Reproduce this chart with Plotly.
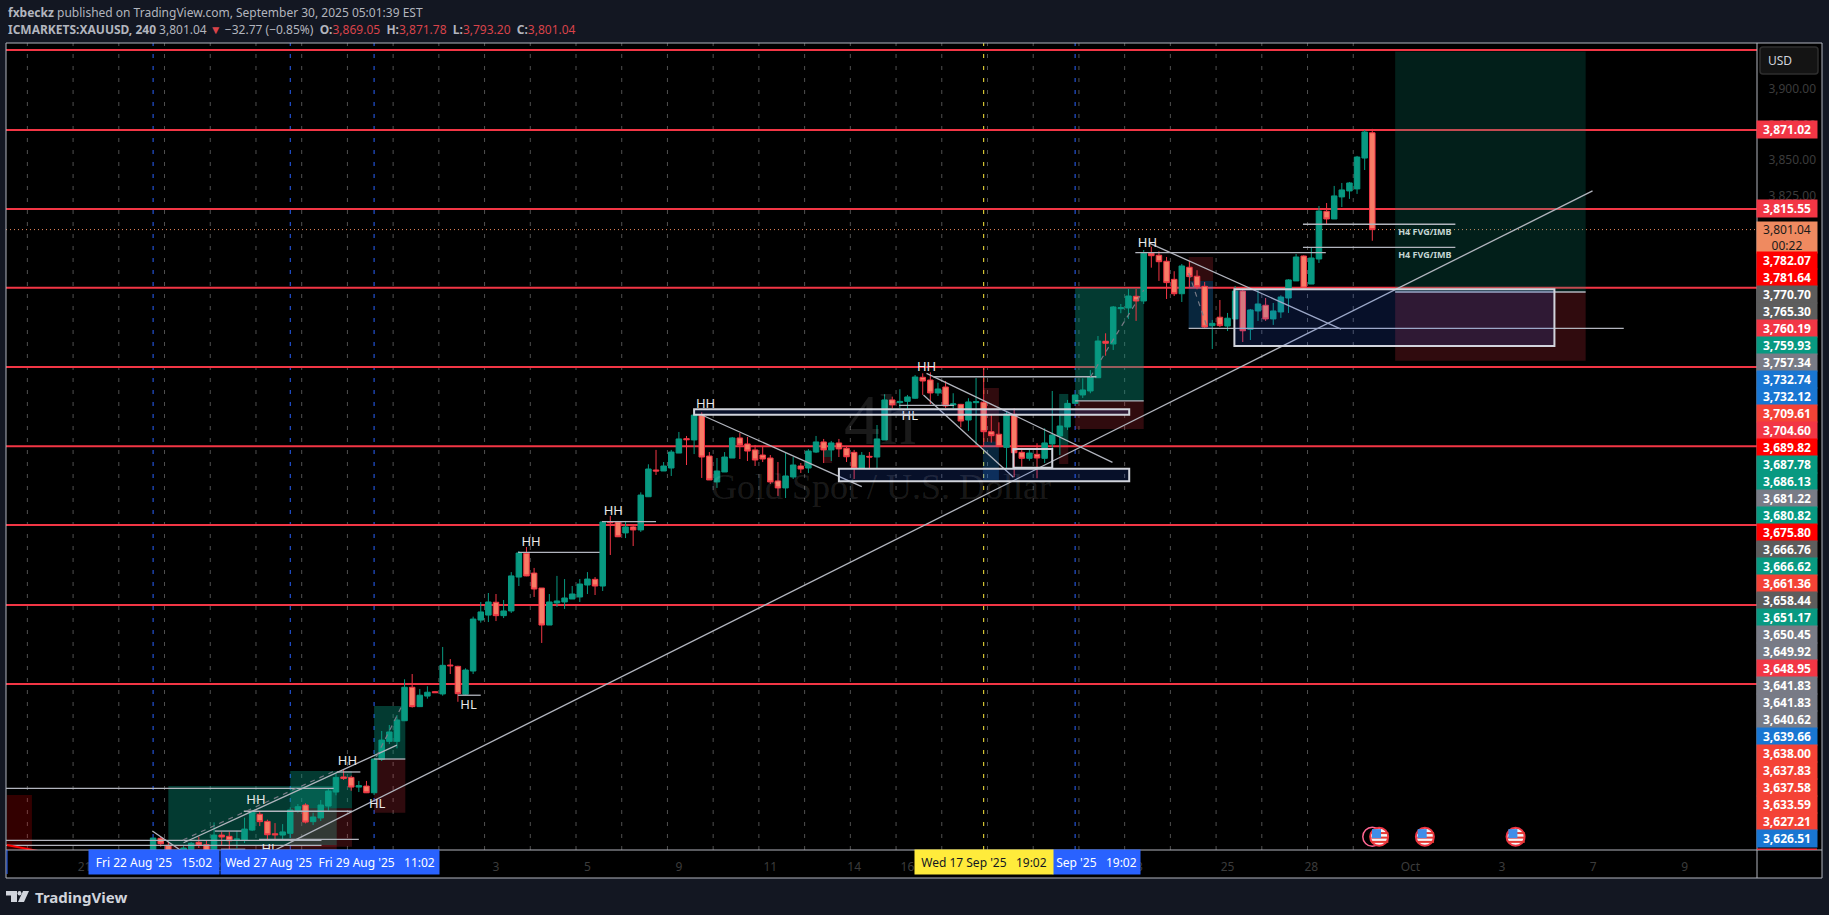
#!/usr/bin/env python3
import plotly.graph_objects as go

# ============================================================
#                  CANDLES (4h XAUUSD)
# ============================================================

directions = (
    "UDDDUUDDUD" "DUUUDDDUUU" "DUUUUDDUDU" "UUUUDUUDUD" "DUUUUDUUUD"
    "DDUUUUUUDU" "DDUDUUDUUU" "DUDDUUUDDD" "DDDUUDUUDU" "DDDUDUUDUU"
    "UDDUDUDUUD" "DDUDDUDUUU" "UUUUUDUUUD" "UDDDDUDDDU" "DUUDUUDUUU"
    "UDUUDUUUUU" "D"
)

body_top = [
    3373.7, 3373.5, 3368.6, 3363.2, 3366.7, 3370.0, 3370.7, 3369.0, 3375.8, 3375.8,
    3374.9, 3373.0, 3380.0, 3391.8, 3390.4, 3385.4, 3376.7, 3378.0, 3393.4, 3395.7,
    3396.9, 3388.5, 3396.9, 3406.7, 3416.3, 3416.6, 3416.3, 3410.5, 3410.2, 3429.2,
    3442.5, 3448.2, 3456.6, 3479.6, 3479.6, 3474.0, 3476.1, 3476.5, 3495.0, 3495.2,
    3494.3, 3491.7, 3527.5, 3532.5, 3539.5, 3539.3, 3533.2, 3557.8, 3573.9, 3573.7,
    3559.8, 3549.3, 3539.5, 3540.2, 3542.3, 3545.1, 3552.1, 3555.6, 3555.4, 3595.7,
    3595.9, 3595.7, 3592.2, 3592.2, 3614.6, 3632.9, 3632.2, 3635.0, 3644.8, 3654.0,
    3654.2, 3670.8, 3670.6, 3642.0, 3631.5, 3641.3, 3654.7, 3654.7, 3650.5, 3646.3,
    3642.7, 3640.6, 3624.5, 3628.0, 3635.7, 3635.0, 3645.5, 3651.9, 3651.9, 3651.2,
    3651.2, 3647.4, 3644.6, 3642.5, 3641.8, 3654.0, 3681.4, 3681.4, 3680.4, 3683.5,
    3697.5, 3697.3, 3695.4, 3689.1, 3690.5, 3678.6, 3678.3, 3680.0, 3680.2, 3679.8,
    3659.1, 3657.3, 3671.5, 3671.3, 3644.6, 3644.1, 3643.2, 3651.2, 3656.8, 3663.1,
    3679.0, 3684.9, 3688.4, 3697.7, 3722.8, 3722.6, 3746.7, 3746.2, 3754.4, 3754.2,
    3784.4, 3784.4, 3783.0, 3778.8, 3766.1, 3775.5, 3774.6, 3768.3, 3761.2, 3735.2,
    3739.5, 3738.8, 3757.9, 3757.9, 3744.6, 3748.8, 3747.9, 3743.9, 3753.7, 3765.7,
    3781.8, 3782.5, 3781.1, 3814.1, 3813.9, 3824.7, 3828.9, 3833.8, 3852.0, 3869.6,
    3869.05,
]

body_bottom = [
    3358.2, 3369.7, 3361.8, 3356.9, 3359.7, 3365.8, 3368.8, 3363.2, 3361.8, 3374.4,
    3371.8, 3372.3, 3372.1, 3379.3, 3385.2, 3376.0, 3376.0, 3375.8, 3377.0, 3392.9,
    3384.9, 3385.2, 3387.8, 3396.2, 3406.0, 3415.6, 3409.5, 3409.5, 3405.5, 3405.5,
    3429.0, 3441.6, 3441.6, 3456.1, 3466.0, 3466.0, 3473.4, 3475.8, 3474.9, 3494.7,
    3475.1, 3474.7, 3491.0, 3526.8, 3530.3, 3529.9, 3529.9, 3533.2, 3557.0, 3557.8,
    3548.6, 3523.3, 3523.3, 3538.8, 3539.5, 3541.6, 3543.0, 3551.4, 3550.7, 3550.7,
    3595.2, 3585.3, 3588.0, 3590.1, 3590.1, 3613.4, 3631.5, 3631.5, 3633.6, 3644.1,
    3653.5, 3653.3, 3641.3, 3625.2, 3623.8, 3630.8, 3640.6, 3649.8, 3645.5, 3639.2,
    3639.9, 3623.8, 3619.6, 3619.6, 3627.3, 3632.9, 3633.6, 3644.8, 3646.3, 3646.3,
    3647.0, 3641.5, 3633.4, 3633.4, 3641.3, 3641.3, 3653.3, 3677.9, 3679.5, 3680.4,
    3682.6, 3694.7, 3686.3, 3686.3, 3677.2, 3677.9, 3666.6, 3667.3, 3679.5, 3659.1,
    3656.3, 3648.6, 3648.1, 3644.3, 3640.4, 3640.4, 3640.6, 3640.4, 3650.5, 3656.1,
    3662.4, 3679.0, 3684.9, 3687.7, 3697.0, 3721.2, 3720.7, 3745.5, 3746.0, 3750.9,
    3750.9, 3782.7, 3778.5, 3763.8, 3756.0, 3756.0, 3768.0, 3761.0, 3732.6, 3733.6,
    3733.6, 3733.3, 3738.3, 3730.0, 3731.0, 3743.9, 3738.3, 3738.3, 3743.2, 3753.0,
    3765.0, 3760.0, 3762.8, 3780.4, 3808.5, 3808.5, 3824.0, 3828.2, 3829.6, 3851.3,
    3801.04,
]

highs = [
    3373.7, 3374.4, 3370.9, 3365.3, 3368.1, 3370.9, 3374.6, 3371.8, 3384.7, 3378.1,
    3378.1, 3378.8, 3388.0, 3392.7, 3392.2, 3386.6, 3384.2, 3383.5, 3395.3, 3397.6,
    3398.1, 3391.5, 3400.4, 3408.6, 3419.1, 3422.0, 3417.5, 3413.8, 3413.8, 3429.9,
    3448.9, 3453.1, 3460.1, 3485.2, 3488.9, 3478.4, 3480.3, 3477.0, 3507.9, 3499.4,
    3494.7, 3492.9, 3529.2, 3539.5, 3545.8, 3545.1, 3540.9, 3560.5, 3575.3, 3578.1,
    3563.4, 3549.3, 3545.1, 3557.8, 3555.6, 3550.7, 3555.6, 3560.5, 3557.0, 3596.4,
    3599.9, 3596.4, 3596.4, 3593.6, 3616.5, 3636.2, 3646.3, 3637.8, 3646.3, 3658.9,
    3656.1, 3674.8, 3672.7, 3644.8, 3640.6, 3644.8, 3655.4, 3658.2, 3655.4, 3649.8,
    3648.4, 3642.7, 3637.8, 3644.1, 3641.3, 3637.1, 3646.9, 3656.1, 3654.0, 3652.6,
    3654.0, 3649.1, 3646.3, 3644.8, 3644.8, 3663.8, 3685.4, 3683.7, 3688.9, 3684.9,
    3698.9, 3700.1, 3700.8, 3693.5, 3694.7, 3686.1, 3678.6, 3682.6, 3696.8, 3705.2,
    3671.5, 3665.7, 3673.1, 3675.5, 3647.7, 3647.4, 3651.0, 3661.5, 3687.7, 3670.8,
    3681.4, 3685.6, 3696.6, 3702.4, 3726.3, 3728.2, 3747.4, 3748.8, 3759.3, 3759.3,
    3786.7, 3789.1, 3785.8, 3781.8, 3771.8, 3776.9, 3779.0, 3772.5, 3764.3, 3737.6,
    3751.6, 3742.5, 3761.4, 3759.3, 3745.3, 3758.6, 3753.0, 3749.5, 3754.9, 3766.2,
    3783.9, 3783.0, 3788.8, 3817.6, 3819.7, 3831.7, 3833.8, 3834.5, 3852.8, 3871.0,
    3871.78,
]

lows = [
    3354.8, 3367.6, 3359.7, 3354.1, 3356.9, 3364.6, 3366.7, 3359.7, 3359.7, 3368.8,
    3363.9, 3366.5, 3370.2, 3378.6, 3382.1, 3372.3, 3372.3, 3372.3, 3373.7, 3391.5,
    3384.0, 3382.8, 3385.7, 3392.9, 3403.7, 3414.5, 3406.9, 3406.0, 3405.3, 3403.9,
    3427.8, 3439.7, 3436.7, 3455.9, 3465.3, 3465.7, 3471.6, 3475.6, 3473.7, 3488.9,
    3469.4, 3474.2, 3488.9, 3525.0, 3525.4, 3526.1, 3528.2, 3531.8, 3550.7, 3557.6,
    3543.0, 3510.7, 3523.3, 3536.0, 3534.6, 3541.6, 3539.5, 3545.1, 3544.4, 3547.2,
    3572.5, 3585.1, 3584.4, 3578.8, 3588.7, 3613.2, 3628.7, 3631.5, 3628.0, 3644.1,
    3635.7, 3643.4, 3626.6, 3625.2, 3619.6, 3630.8, 3640.6, 3639.9, 3638.5, 3635.0,
    3637.8, 3622.4, 3614.0, 3612.5, 3625.9, 3630.1, 3630.1, 3644.1, 3637.1, 3638.5,
    3641.3, 3637.8, 3625.9, 3633.4, 3633.6, 3633.6, 3653.3, 3675.5, 3675.8, 3675.1,
    3682.1, 3684.9, 3678.6, 3684.2, 3675.8, 3675.5, 3662.2, 3659.6, 3649.8, 3648.4,
    3651.4, 3648.4, 3633.4, 3627.1, 3634.5, 3638.7, 3626.4, 3637.1, 3642.7, 3642.7,
    3660.3, 3678.6, 3682.8, 3686.1, 3696.8, 3712.5, 3716.5, 3742.3, 3738.3, 3736.9,
    3748.8, 3774.3, 3765.0, 3752.3, 3754.4, 3750.2, 3760.7, 3759.1, 3731.9, 3717.2,
    3732.6, 3729.8, 3738.3, 3722.1, 3723.5, 3736.9, 3736.9, 3734.1, 3739.0, 3742.5,
    3765.0, 3759.3, 3762.8, 3777.6, 3805.0, 3808.5, 3816.9, 3822.6, 3826.1, 3842.9,
    3793.20,
]

# ============================================================
#                  AXES
# ============================================================

x_tick_bars = [-9, 9, 45, 57, 69, 81, 92, 99, 129, 141, 152, 165, 177, 189, 201]
x_tick_text = ["21", "26", "3", "5", "9", "11", "14", "16", "23", "25", "28", "Oct", "3", "7", "9"]
y_tick_vals = [3900, 3875, 3850, 3825]

session_bars = [-16.5 + 6 * i for i in range(30)]
blue_bars = [0, 18, 29, 121]
yellow_bars = [109]

# ============================================================
#                  DRAWINGS
# ============================================================

red_levels = [3927.2, 3871.02, 3815.55, 3760.19, 3704.60, 3648.95, 3593.6, 3537.4, 3481.9]
last_price = 3801.04

# bar0, bar1, top, mid, bottom, top colour, bottom colour
GREEN_HI = "rgba(8,153,129,0.38)"
GREEN_LO = "rgba(8,153,129,0.2)"
RED_BOX = "rgba(242,54,69,0.2)"
RED_PURE = "rgba(255,0,0,0.2)"
BLUE_BOX = "rgba(33,150,243,0.25)"
position_boxes = [
    (-19.2, -15.9, 3404.0, 3351.0, 3351.0, RED_PURE, RED_PURE),
    (2.0, 24.1, 3410.2, 3368.8, 3351.2, GREEN_HI, RED_BOX),
    (18.0, 26.1, 3420.8, 3394.6, 3367.6, GREEN_HI, RED_BOX),
    (29.0, 33.1, 3466.4, 3429.2, 3391.5, GREEN_HI, RED_BOX),
    (87.9, 89.1, 3646.3, 3641.3, 3637.1, GREEN_HI, RED_BOX),
    (108.9, 111.0, 3689.8, 3652.1, 3625.2, RED_BOX, BLUE_BOX),
    (118.9, 120.1, 3685.6, 3649.8, 3636.4, GREEN_HI, RED_BOX),
    (121.0, 130.0, 3760.0, 3680.7, 3661.0, GREEN_HI, RED_BOX),
    (135.9, 139.1, 3781.8, 3765.0, 3731.9, RED_BOX, BLUE_BOX),
    (163.0, 188.0, 3926.2, 3757.2, 3709.0, GREEN_LO, RED_BOX),
]

# bar0, bar1, top, bottom, filled
outlined_boxes = [
    (71.0, 128.1, 3674.8, 3671.0, True),
    (90.0, 128.1, 3633.1, 3624.3, True),
    (112.9, 118.0, 3647.0, 3633.8, False),
    (141.9, 183.9, 3759.1, 3719.3, True),
]

trend_lines = [
    (12.7, 3356.4, 188.9, 3828.2),
    (4.0, 3370.4, 32.0, 3439.0),
    (-0.1, 3378.6, 5.5, 3358.2),
    (72.0, 3670.8, 93.0, 3620.5),
    (101.5, 3700.1, 125.9, 3637.6),
    (101.1, 3684.9, 112.9, 3627.1),
    (130.8, 3791.4, 155.9, 3731.2),
    (-19.3, 3408.6, 23.7, 3408.6),
    (-19.3, 3372.1, 22.1, 3372.1),
    (-19.3, 3368.6, 22.1, 3368.6),
    (13.9, 3372.8, 27.0, 3372.8),
    (11.9, 3392.5, 26.1, 3392.5),
    (8.1, 3378.6, 11.6, 3378.6),
    (8.9, 3365.8, 12.1, 3365.8),
    (24.1, 3420.1, 27.2, 3420.1),
    (40.0, 3474.0, 43.0, 3474.0),
    (47.9, 3574.4, 58.6, 3574.4),
    (58.9, 3595.9, 66.0, 3595.9),
    (97.9, 3677.6, 105.1, 3677.6),
    (102.4, 3697.7, 123.8, 3697.7),
    (128.9, 3784.8, 153.9, 3784.8),
    (135.9, 3731.7, 193.0, 3731.7),
    (150.9, 3804.8, 170.9, 3804.8),
    (150.9, 3788.6, 170.9, 3788.6),
    (29.0, 3429.2, 33.1, 3429.2),
    (121.0, 3680.7, 130.0, 3680.7),
    (163.0, 3757.2, 188.0, 3757.2),
]

dashed_lines = [
    (3.9, 3372.3, 24.1, 3421.5),
    (29.3, 3430.8, 32.6, 3466.0),
    (123.0, 3697.5, 130.0, 3758.6),
    (135.9, 3770.6, 138.3, 3732.9),
]

swing_bars = [49.6, 60.4, 72.5, 99.3, 101.5, 130.5, 13.5, 25.5, 29.4, 41.4, 15.3]
swing_prices = [3581.1, 3602.9, 3677.9, 3669.6, 3704.3, 3791.4, 3399.7, 3427.3, 3397.4, 3466.6, 3365.8]
swing_labels = ["HH", "HH", "HH", "HL", "HH", "HH", "HH", "HH", "HL", "HL", "HL"]

fvg_bars = [166.9, 166.9]
fvg_prices = [3798.9, 3782.7]
fvg_labels = ["H4 FVG/IMB", "H4 FVG/IMB"]

flag_bars = [160.9, 166.9, 178.8]
flag_price = 3374.6

# ============================================================
#                  PRICE TAGS
# ============================================================

PINK = "#F23645"
PURE = "#FF0000"
DGREY = "#5D5D5D"
TEAL = "#089981"
GREY = "#787B86"
BLUE = "#1976D2"
CORAL = "#F44336"

level_tags = [3871.02, 3815.55]
stack_values = [
    3782.07, 3781.64, 3770.70, 3765.30, 3760.19, 3759.93, 3757.34, 3732.74, 3732.12, 3709.61,
    3704.60, 3689.82, 3687.78, 3686.13, 3681.22, 3680.82, 3675.80, 3666.76, 3666.62, 3661.36,
    3658.44, 3651.17, 3650.45, 3649.92, 3648.95, 3641.83, 3641.83, 3640.62, 3639.66, 3638.00,
    3637.83, 3637.58, 3633.59, 3627.21, 3626.51,
]
stack_colors = [
    PURE, PURE, DGREY, DGREY, PINK, TEAL, GREY, BLUE, BLUE, CORAL,
    PINK, PURE, TEAL, TEAL, GREY, TEAL, PURE, DGREY, TEAL, CORAL,
    DGREY, TEAL, GREY, GREY, PINK, GREY, GREY, GREY, BLUE, CORAL,
    CORAL, CORAL, CORAL, CORAL, BLUE,
]

# ============================================================
#                  PAGE GEOMETRY
# ============================================================

W, H = 1829, 915
LEFT, RIGHT, TOP, BOTTOM = 6, 1757, 43, 850
FRAME_R, FRAME_B = 1822, 878


def px(v):
    return (v - LEFT) / (RIGHT - LEFT)


def py(v):
    return (BOTTOM - v) / (BOTTOM - TOP)


BAR_PX = 7.62
BAR0_PX = 153.1
x_range = [(LEFT - BAR0_PX) / BAR_PX, (RIGHT - BAR0_PX) / BAR_PX]
y_range = [3365.3, 3932.1]

FONT = "Noto Sans"

# ============================================================
#                  FIGURE
# ============================================================

ups = [d == "U" for d in directions]
opens = [b if u else t for t, b, u in zip(body_top, body_bottom, ups)]
closes = [t if u else b for t, b, u in zip(body_top, body_bottom, ups)]

fig = go.Figure()

fig.add_trace(go.Candlestick(
    x=list(range(len(opens))),
    open=opens, high=highs, low=lows, close=closes,
    increasing=dict(line=dict(color="#089981", width=1), fillcolor="#089981"),
    decreasing=dict(line=dict(color="#F23645", width=1), fillcolor="#F77C66"),
    whiskerwidth=0,
    hoverinfo="skip",
))


def seg_xy(segs):
    xs, ys = [], []
    for x0, y0, x1, y1 in segs:
        xs += [x0, x1, None]
        ys += [y0, y1, None]
    return xs, ys


xs, ys = seg_xy(trend_lines)
fig.add_trace(go.Scatter(x=xs, y=ys, mode="lines", hoverinfo="skip",
                         line=dict(color="#B2B5BE", width=1.3)))
xs, ys = seg_xy(dashed_lines)
fig.add_trace(go.Scatter(x=xs, y=ys, mode="lines", hoverinfo="skip",
                         line=dict(color="#787B86", width=1.2, dash="5px,5px")))

fig.add_trace(go.Scatter(x=swing_bars, y=swing_prices, mode="text", text=swing_labels,
                         hoverinfo="skip",
                         textfont=dict(family=FONT, size=13, color="#E8E8E8")))
fig.add_trace(go.Scatter(x=fvg_bars, y=fvg_prices, mode="text", text=fvg_labels,
                         hoverinfo="skip",
                         textfont=dict(family=FONT, size=9, color="#C4D6D3", weight="bold")))

# left red stub, earnings flags
fig.add_trace(go.Scatter(x=[-19.2, -15.1], y=[3368.8, 3364.6], mode="lines", hoverinfo="skip",
                         line=dict(color="#FF0000", width=2)))
fig.add_trace(go.Scatter(x=[160.0], y=[flag_price], mode="markers", hoverinfo="skip",
                         marker=dict(symbol="circle-open", size=19, line=dict(color="#9C27B0", width=1.5))))
fig.add_trace(go.Scatter(x=flag_bars, y=[flag_price] * 3, mode="markers", hoverinfo="skip",
                         marker=dict(symbol="circle", size=18, color="#F5F5F5",
                                     line=dict(color="#F23645", width=2))))
for off in [-3.6, -0.6, 2.6]:
    fig.add_trace(go.Scatter(x=[b + 0.1 for b in flag_bars], y=[flag_price + off] * 3, mode="markers",
                             hoverinfo="skip",
                             marker=dict(symbol="line-ew", size=12, line=dict(color="#E53935", width=2))))
fig.add_trace(go.Scatter(x=[b - 0.35 for b in flag_bars], y=[flag_price + 2.2] * 3, mode="markers",
                         hoverinfo="skip",
                         marker=dict(symbol="square", size=9, color="#3F8EE8", line=dict(width=0))))

# ---------- panel background and frame ----------
fig.add_shape(type="rect", xref="paper", yref="paper", layer="below",
              x0=px(LEFT), x1=px(FRAME_R), y0=py(FRAME_B), y1=py(TOP),
              fillcolor="#000000", line=dict(width=0))

# ---------- session grid and marked bars ----------
for b in session_bars:
    fig.add_shape(type="line", xref="x", yref="paper", layer="below", x0=b, x1=b, y0=0, y1=1,
                  line=dict(color="#505050", width=1, dash="4px,8px"))
for b in blue_bars:
    fig.add_shape(type="line", xref="x", yref="paper", layer="below", x0=b, x1=b, y0=0, y1=1,
                  line=dict(color="#2962FF", width=1, dash="4px,8px"))
for b in yellow_bars:
    fig.add_shape(type="line", xref="x", yref="paper", layer="below", x0=b, x1=b, y0=0, y1=1,
                  line=dict(color="#FFEB3B", width=1, dash="4px,8px"))

# ---------- levels ----------
for lv in red_levels:
    fig.add_shape(type="line", xref="paper", yref="y", layer="below", x0=0, x1=1, y0=lv, y1=lv,
                  line=dict(color="#F23645", width=2))
fig.add_shape(type="line", xref="paper", yref="y", layer="below", x0=0, x1=1,
              y0=last_price, y1=last_price,
              line=dict(color="#EF8A60", width=1, dash="1px,3px"))

# ---------- long / short position boxes ----------
for b0, b1, top, mid, bot, c_top, c_bot in position_boxes:
    fig.add_shape(type="rect", xref="x", yref="y", layer="below", x0=b0, x1=b1, y0=mid, y1=top,
                  fillcolor=c_top, line=dict(width=0))
    fig.add_shape(type="rect", xref="x", yref="y", layer="below", x0=b0, x1=b1, y0=bot, y1=mid,
                  fillcolor=c_bot, line=dict(width=0))

for b0, b1, top, bot, filled in outlined_boxes:
    fig.add_shape(type="rect", xref="x", yref="y", layer="above", x0=b0, x1=b1, y0=bot, y1=top,
                  fillcolor="rgba(41,98,255,0.16)" if filled else "rgba(0,0,0,0)",
                  line=dict(color="#D1D4DC", width=2))

# ---------- frame ----------
FRAME = "#B2B5BE"
fig.add_shape(type="rect", xref="paper", yref="paper", layer="above",
              x0=px(LEFT), x1=px(FRAME_R), y0=py(FRAME_B), y1=py(TOP),
              fillcolor="rgba(0,0,0,0)", line=dict(color=FRAME, width=1))
fig.add_shape(type="line", xref="paper", yref="paper", layer="above",
              x0=px(RIGHT), x1=px(RIGHT), y0=py(FRAME_B), y1=py(TOP), line=dict(color=FRAME, width=1))
fig.add_shape(type="line", xref="paper", yref="paper", layer="above",
              x0=px(LEFT), x1=px(FRAME_R), y0=py(BOTTOM), y1=py(BOTTOM), line=dict(color=FRAME, width=1))

# ---------- USD button ----------
fig.add_shape(type="path", xref="paper", yref="paper", layer="above",
              path=f"M {px(1763)} {py(47)} L {px(1815)} {py(47)} Q {px(1818)} {py(47)} {px(1818)} {py(50)} "
                   f"L {px(1818)} {py(71)} Q {px(1818)} {py(74)} {px(1815)} {py(74)} "
                   f"L {px(1763)} {py(74)} Q {px(1760)} {py(74)} {px(1760)} {py(71)} "
                   f"L {px(1760)} {py(50)} Q {px(1760)} {py(47)} {px(1763)} {py(47)} Z",
              fillcolor="#141414", line=dict(color="#2E2E2E", width=1.5))
fig.add_annotation(xref="paper", yref="paper", x=px(1780), y=py(61), text="USD", showarrow=False,
                   xanchor="center", yanchor="middle",
                   font=dict(family=FONT, size=12, color="#D1D4DC"))


# ---------- price tags ----------
def price_tag(text, y, color, font_color="#FFFFFF", height=17):
    fig.add_annotation(xref="paper", yref="paper", x=px(1787), y=py(y), text=text, showarrow=False,
                       xanchor="center", yanchor="middle", width=60, height=height, borderpad=0,
                       bgcolor=color, align="center",
                       font=dict(family=FONT, size=12, color=font_color, weight="bold"))


for v in level_tags:
    fig.add_annotation(xref="paper", yref="y", x=px(1787), y=v, text=f"{v:,.2f}", showarrow=False,
                       xanchor="center", yanchor="middle", width=60, height=17, borderpad=0,
                       bgcolor=PINK, align="center",
                       font=dict(family=FONT, size=12, color="#FFFFFF", weight="bold"))

fig.add_annotation(xref="paper", yref="paper", x=px(1787), y=py(237.5),
                   text=f"{last_price:,.2f}<br>00:22", showarrow=False,
                   xanchor="center", yanchor="middle", width=60, height=31, borderpad=0,
                   bgcolor="#EF8A60", align="center",
                   font=dict(family=FONT, size=12, color="#1A1A1A"))

for i, (v, c) in enumerate(zip(stack_values, stack_colors)):
    price_tag(f"{v:,.2f}", 260.7 + 17 * i, c)
fig.add_shape(type="rect", xref="paper", yref="paper", layer="above",
              x0=px(1757), x1=px(1817), y0=py(850), y1=py(848.5),
              fillcolor=PINK, line=dict(width=0))


# ---------- time tags ----------
def time_tag(text, x0, x1, color, font_color="#FFFFFF"):
    fig.add_annotation(xref="paper", yref="paper", x=px((x0 + x1) / 2), y=py(862), text=text,
                       showarrow=False, xanchor="center", yanchor="middle",
                       width=x1 - x0, height=24, borderpad=0, bgcolor=color, align="center",
                       font=dict(family=FONT, size=12, color=font_color))


NB = "&nbsp;"
time_tag(f"Fri 22 Aug '25{NB*3}15:02", 89, 219, "#2962FF")
time_tag(f"Wed 27 Aug '25{NB*2}Fri 29 Aug '25{NB*3}11:02", 221, 439, "#2962FF")
time_tag(f"Sep '25{NB*3}19:02", 1053, 1140, "#2962FF")
time_tag(f"Wed 17 Sep '25{NB*3}19:02", 915, 1053, "#FFEB3B", "#131722")
fig.add_shape(type="rect", xref="paper", yref="paper", layer="above",
              x0=px(6.5), x1=px(7.5), y0=py(874), y1=py(850),
              fillcolor="#2962FF", line=dict(width=0))

# ---------- watermark ----------
fig.add_annotation(xref="paper", yref="paper", x=px(880), y=py(420), text="4h", showarrow=False,
                   xanchor="center", yanchor="middle",
                   font=dict(family="Liberation Serif", size=72, color="rgba(255,255,255,0.1)"))
fig.add_annotation(xref="paper", yref="paper", x=px(881), y=py(487), text="Gold Spot / U.S. Dollar",
                   showarrow=False, xanchor="center", yanchor="middle",
                   font=dict(family="Liberation Serif", size=36, color="rgba(255,255,255,0.11)"))

# ---------- header ----------
GREYT = "#B2B5BE"
RED_T = "#D9434A"
fig.add_annotation(xref="paper", yref="paper", x=px(6), y=py(12.5), xanchor="left", yanchor="middle",
                   showarrow=False, align="left",
                   text="<b>fxbeckz</b> published on TradingView.com, September 30, 2025 05:01:39 EST",
                   font=dict(family=FONT, size=12, color=GREYT))
header = (
    "<b>ICMARKETS:XAUUSD, 240</b>" + NB + "3,801.04" + NB
    + f"<span style='color:{RED_T}'>▼</span>" + NB + "−32.77 (−0.85%)" + NB * 2
    + f"<b>O:</b><span style='color:{RED_T}'>3,869.05</span>" + NB * 2
    + f"<b>H:</b><span style='color:{RED_T}'>3,871.78</span>" + NB * 2
    + f"<b>L:</b><span style='color:{RED_T}'>3,793.20</span>" + NB * 2
    + f"<b>C:</b><span style='color:{RED_T}'>3,801.04</span>"
)
fig.add_annotation(xref="paper", yref="paper", x=px(6), y=py(29.5), xanchor="left", yanchor="middle",
                   showarrow=False, align="left", text=header,
                   font=dict(family=FONT, size=12, color=GREYT))

# ---------- footer logo ----------
LOGO = "#D1D4DC"
fig.add_shape(type="path", xref="paper", yref="paper", layer="above", fillcolor=LOGO, line=dict(width=0),
              path=f"M {px(6)} {py(891)} L {px(17)} {py(891)} L {px(17)} {py(902)} L {px(11)} {py(902)} "
                   f"L {px(11)} {py(895.5)} L {px(6)} {py(895.5)} Z")
fig.add_shape(type="circle", xref="paper", yref="paper", layer="above", fillcolor=LOGO, line=dict(width=0),
              x0=px(17.5), x1=px(21.5), y0=py(895.5), y1=py(891))
fig.add_shape(type="path", xref="paper", yref="paper", layer="above", fillcolor=LOGO, line=dict(width=0),
              path=f"M {px(23)} {py(891)} L {px(29)} {py(891)} L {px(24)} {py(902)} L {px(18)} {py(902)} Z")
fig.add_annotation(xref="paper", yref="paper", x=px(33), y=py(897), xanchor="left", yanchor="middle",
                   showarrow=False, text="<b>TradingView</b>",
                   font=dict(family=FONT, size=15, color=LOGO))

# ---------- layout ----------
fig.update_xaxes(range=x_range, rangeslider_visible=False, showgrid=False, zeroline=False,
                 tickmode="array", tickvals=x_tick_bars, ticktext=x_tick_text,
                 ticks="outside", ticklen=6, tickcolor="rgba(0,0,0,0)",
                 tickfont=dict(family=FONT, size=12, color="#3C3C3C"), showline=False)
fig.update_yaxes(range=y_range, side="right", showgrid=False, zeroline=False,
                 tickmode="array", tickvals=y_tick_vals, ticktext=[f"{v:,.2f}" for v in y_tick_vals],
                 ticks="outside", ticklen=8, tickcolor="rgba(0,0,0,0)",
                 tickfont=dict(family=FONT, size=12, color="#3C3C3C"), showline=False)
fig.update_layout(
    width=W, height=H,
    margin=dict(l=LEFT, r=W - RIGHT, t=TOP, b=H - BOTTOM, autoexpand=False),
    paper_bgcolor="#131722", plot_bgcolor="#000000",
    showlegend=False, dragmode=False,
    boxgap=0.15, boxgroupgap=0.15,
)

fig.write_html("out.html", config=dict(displayModeBar=False),
               post_script="document.body.style.margin='0';document.body.style.background='#131722';")
